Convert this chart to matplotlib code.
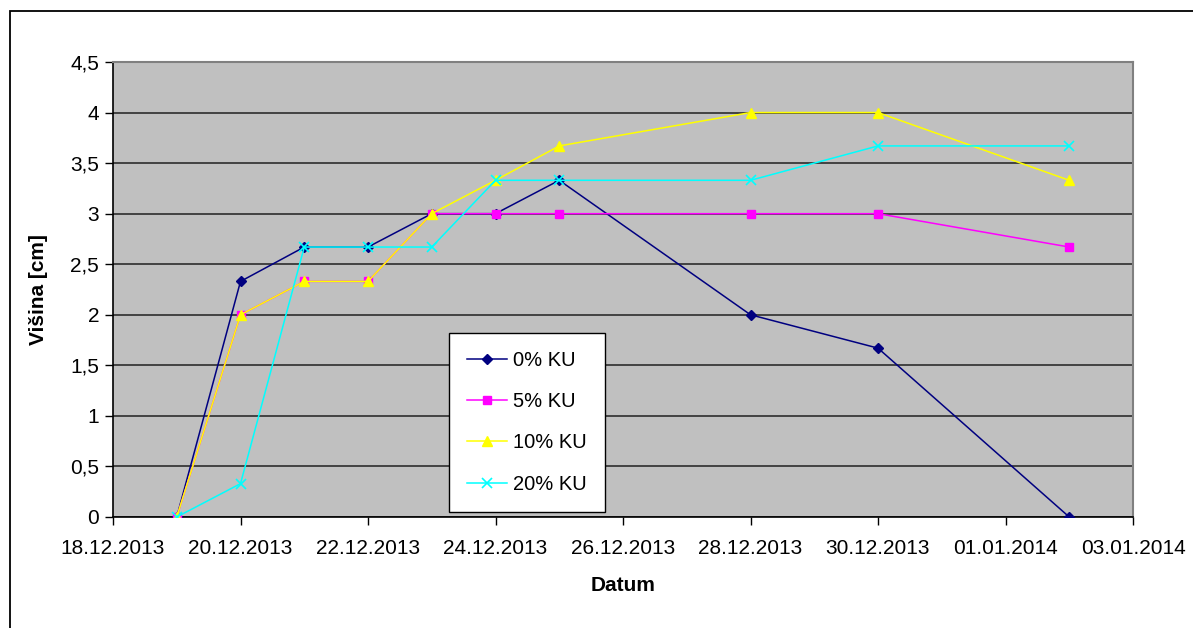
import matplotlib
matplotlib.use("Agg")
import matplotlib.pyplot as plt
import matplotlib.dates as mdates
import matplotlib.patches as patches
from matplotlib.ticker import FuncFormatter, MultipleLocator
import pandas as pd

# Measurement dates and plant height (cm) per treatment
dates = ["19.12.2013", "20.12.2013", "21.12.2013", "22.12.2013", "23.12.2013",
         "24.12.2013", "25.12.2013", "28.12.2013", "30.12.2013", "02.01.2014"]
ku_0 = [0, 2.33, 2.67, 2.67, 3, 3, 3.33, 2, 1.67, 0]
ku_5 = [0, 2, 2.33, 2.33, 3, 3, 3, 3, 3, 2.67]
ku_10 = [0, 2, 2.33, 2.33, 3, 3.33, 3.67, 4, 4, 3.33]
ku_20 = [0, 0.33, 2.67, 2.67, 2.67, 3.33, 3.33, 3.33, 3.67, 3.67]
labels = ["0% KU", "5% KU", "10% KU", "20% KU"]

x = pd.to_datetime(dates, format="%d.%m.%Y")

plt.rcParams['font.family'] = ['Liberation Sans', 'DejaVu Sans']
FS = 15
fig = plt.figure(figsize=(11.93, 6.28), dpi=100)
ax = fig.add_axes([113 / 1193, 1 - 517 / 628, 1020 / 1193, 455 / 628])
ax.set_facecolor("#c0c0c0")

styles = [
    dict(color="#000080", marker="D", markersize=5.5),
    dict(color="#ff00ff", marker="s", markersize=6),
    dict(color="#ffff00", marker="^", markersize=7.5),
    dict(color="#00ffff", marker="x", markersize=7.5, markeredgewidth=1.2),
]
for ys, lab, st in zip([ku_0, ku_5, ku_10, ku_20], labels, styles):
    ax.plot(x, ys, label=lab, linewidth=1.1, zorder=3, **st)

# axes limits and ticks
ax.set_xlim(pd.Timestamp("2013-12-18"), pd.Timestamp("2014-01-03"))
ax.set_ylim(0, 4.5)
ax.xaxis.set_major_locator(mdates.DayLocator(interval=2))
ax.xaxis.set_major_formatter(mdates.DateFormatter("%d.%m.%Y"))
ax.yaxis.set_major_locator(MultipleLocator(0.5))
ax.yaxis.set_major_formatter(FuncFormatter(lambda v, p: f"{v:g}".replace(".", ",")))
ax.tick_params(axis="both", direction="out", length=6, width=1, labelsize=FS, colors="black")
ax.tick_params(axis="x", pad=10)
ax.tick_params(axis="y", pad=4)

ax.grid(axis="y", color="#202020", linewidth=1.1, zorder=1)
ax.set_axisbelow(True)
for side in ["top", "right"]:
    ax.spines[side].set_color("#808080")
    ax.spines[side].set_linewidth(1.5)
for side in ["left", "bottom"]:
    ax.spines[side].set_color("black")
    ax.spines[side].set_linewidth(1.2)

ax.set_xlabel("Datum", fontsize=FS, fontweight="bold", labelpad=13)
ax.set_ylabel("Višina [cm]", fontsize=FS, fontweight="bold", labelpad=16)

leg = ax.legend(loc="upper left", bbox_to_anchor=(449 / 1193, 1 - 333 / 628),
                bbox_transform=fig.transFigure, fontsize=14.5, frameon=True,
                fancybox=False, edgecolor="black", facecolor="white", framealpha=1,
                handlelength=2.0, handletextpad=0.3, labelspacing=1.1,
                borderpad=0.9, borderaxespad=0)
leg.get_frame().set_linewidth(1.0)

# outer chart frame
fig.patches.append(patches.Rectangle((10 / 1193, -0.1), 1.2, 1 - 11 / 628 + 0.1,
                                     transform=fig.transFigure, fill=False,
                                     edgecolor="black", linewidth=1.3))

fig.savefig("out.png", dpi=100)
